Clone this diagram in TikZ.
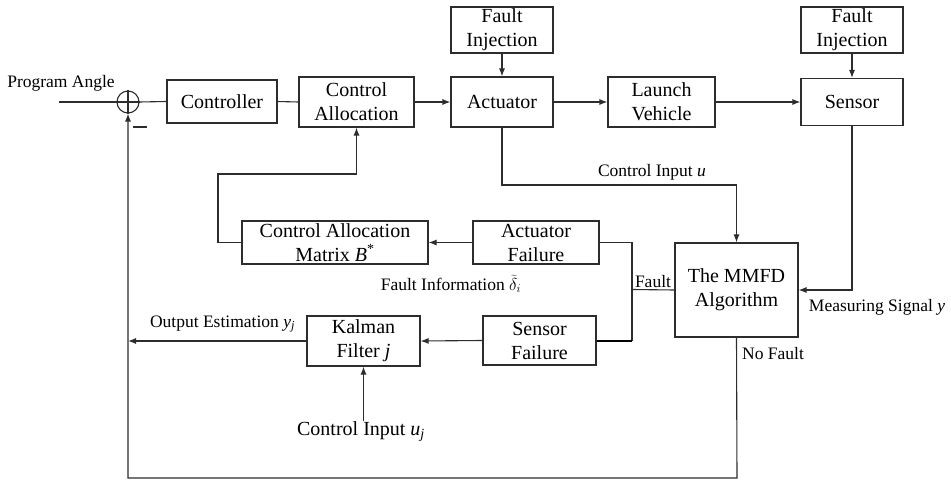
\documentclass[tikz,border=0pt]{standalone}
\usepackage{fontspec}
\setmainfont{Liberation Serif}
\usetikzlibrary{arrows.meta,positioning}
\definecolor{lc}{RGB}{45,45,45}
\tikzset{
  blk/.style={draw=lc, line width=1.1pt, align=center, inner sep=0pt, font=\fontsize{20}{24}\selectfont},
  lbl/.style={inner sep=0pt, font=\fontsize{17.5}{21}\selectfont},
  ln/.style={draw=lc, line width=1.1pt},
  arr/.style={draw=lc, line width=1.1pt, -{Latex[length=8pt,width=6pt]}},
}
\begin{document}
\begin{tikzpicture}[x=1pt,y=-1pt]
\useasboundingbox (0,0) rectangle (951,481);
% blocks
\node[blk, minimum width=110pt, minimum height=43pt] (ctrl) at (222,101.5) {Controller};
\node[blk, minimum width=115pt, minimum height=50pt] (ca) at (356.5,102) {Control\\Allocation};
\node[blk, minimum width=102pt, minimum height=50pt] (act) at (502,102) {Actuator};
\node[blk, minimum width=102pt, minimum height=46pt] (fi1) at (502,30) {Fault\\Injection};
\node[blk, minimum width=107pt, minimum height=50pt] (lv) at (661.5,102) {Launch\\Vehicle};
\node[blk, minimum width=102pt, minimum height=47pt] (sen) at (852,102) {Sensor};
\node[blk, minimum width=102pt, minimum height=46pt] (fi2) at (852,30) {Fault\\Injection};
\node[blk, minimum width=123pt, minimum height=94pt] (mmfd) at (736.5,290) {The MMFD\\Algorithm};
\node[blk, minimum width=186pt, minimum height=43pt] (cam) at (335,242.5) {Control Allocation\\Matrix \textit{B}\textsuperscript{*}};
\node[blk, minimum width=126pt, minimum height=43pt] (af) at (536,242.5) {Actuator\\Failure};
\node[blk, minimum width=113pt, minimum height=49pt] (sf) at (539.5,340.5) {Sensor\\Failure};
\node[blk, minimum width=113pt, minimum height=50pt] (kf) at (363.5,341) {Kalman\\Filter \textit{j}};
% summing junction
\node[draw=lc, circle, line width=1.1pt, minimum size=22pt, inner sep=0pt] (sum) at (128,102) {};
\draw[ln] (sum.north) -- (sum.south);
\draw[ln] (sum.west) -- (sum.east);
\draw[ln] (133,127) -- (147,127);
% labels
\node[lbl] (pa) at (61,83) {Program Angle};
\node[lbl] (ciu) at (652,172) {Control Input \textit{u}};
\node[lbl] (finfo) at (451,284) {Fault Information $\widetilde{\delta}_i$};
\node[lbl] (flt) at (653,282) {Fault};
\node[lbl] (msy) at (877,307) {Measuring Signal \textit{y}};
\node[lbl] (nf) at (773,354) {No Fault};
\node[lbl] (oe) at (222.5,324) {Output Estimation \textit{y}\textsubscript{\textit{j}}};
\node[inner sep=0pt, anchor=north, font=\fontsize{20}{24}\selectfont] (cuj) at (361,421) {Control Input \textit{u}\textsubscript{\textit{j}}};
% coordinates
\coordinate (pin) at (59,102);
\coordinate (j) at (632,289.5);
\coordinate (camturn) at (218,174);
\coordinate (actdown) at (502,185);
\coordinate (bot) at (737,478);
\coordinate (leftx) at (128,478);
\coordinate (kfout) at (128,341);
% forward path
\draw[ln] (pin) -- (sum.west);
\draw[ln] (sum.east) -- (ctrl.west);
\draw[ln] (ctrl.east) -- (ca.west);
\draw[arr] (ca.east) -- (act.west);
\draw[arr] (act.east) -- (lv.west);
\draw[arr] (lv.east) -- (sen.west);
\draw[arr] (fi1.south) -- (act.north);
\draw[arr] (fi2.south) -- (sen.north);
% to MMFD
\draw[arr] (act.south) |- (actdown) -| (mmfd.north);
\draw[arr] (sen.south) |- (mmfd.east);
% fault branches
\draw[ln] (mmfd.west) -- (j);
\draw[ln] (af.east) -| (j);
\draw[ln] (j) |- (sf.east);
\draw[draw=black, line width=2pt] (sf.east) -- (sf.east -| j);
\draw[arr] (af.west) -- (cam.east);
\draw[arr] (cam.west) -| (camturn) -| (ca.south);
\draw[arr] (sf.west) -- (kf.east);
\draw[arr] (kf.west) -- (kfout);
\draw[arr] (kf.south |- cuj.north) -- (kf.south);
% no fault feedback
\draw[arr] (mmfd.south) -- (bot) -- (leftx) -- (sum.south);
\end{tikzpicture}
\end{document}
